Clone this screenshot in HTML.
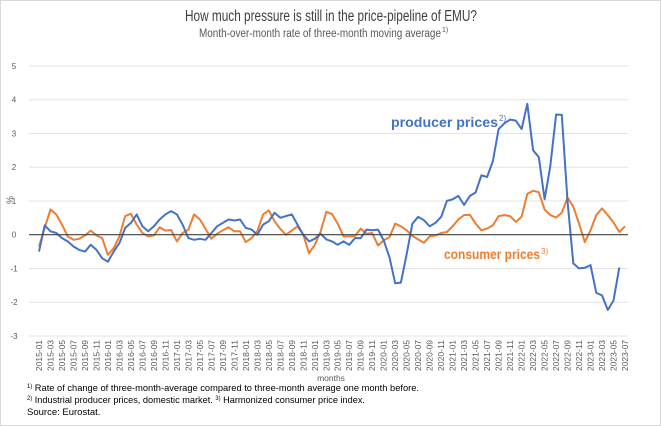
<!DOCTYPE html>
<html><head><meta charset="utf-8"><style>
html,body{margin:0;padding:0;background:#fff}
svg{display:block;font-family:"Liberation Sans",sans-serif}
</style></head><body>
<svg id="chart" width="661" height="426" viewBox="0 0 661 426" xmlns="http://www.w3.org/2000/svg">
<rect x="0.5" y="0.5" width="660" height="425" fill="#fff" stroke="#d9d9d9"/>
<text x="331" y="21" text-anchor="middle" font-size="15.5" fill="#404040" textLength="292" lengthAdjust="spacingAndGlyphs">How much pressure is still in the price-pipeline of EMU?</text>
<text x="320" y="37" text-anchor="middle" font-size="11.5" fill="#595959" textLength="242" lengthAdjust="spacingAndGlyphs">Month-over-month rate of three-month moving average</text>
<text x="442" y="32" font-size="7" fill="#595959">1)</text>
<g id="grid"></g>
<g id="yticks"></g>
<text x="13" y="200" font-size="9" fill="#595959" text-anchor="middle" transform="rotate(-90 13 200)">%</text>
<g id="xticks"></g>
<g id="series"></g>
<text x="391" y="127" font-size="14" font-weight="bold" fill="#4472c4" textLength="107" lengthAdjust="spacingAndGlyphs">producer prices</text>
<text x="499" y="121" font-size="8" fill="#4472c4">2)</text>
<text x="444" y="259" font-size="14" font-weight="bold" fill="#ed7d31" textLength="96" lengthAdjust="spacingAndGlyphs">consumer prices</text>
<text x="541" y="254" font-size="8" fill="#ed7d31">3)</text>
<text x="331" y="381" font-size="8.5" fill="#595959" text-anchor="middle">months</text>
<text x="27" y="391" font-size="9.5" fill="#000" textLength="392" lengthAdjust="spacingAndGlyphs"><tspan font-size="6" dy="-3">1)</tspan><tspan dy="3"> Rate of change of three-month-average compared to three-month average one month before.</tspan></text>
<text x="27" y="403" font-size="9.5" fill="#000" textLength="338" lengthAdjust="spacingAndGlyphs"><tspan font-size="6" dy="-3">2)</tspan><tspan dy="3"> Industrial producer prices, domestic market. </tspan><tspan font-size="6" dy="-3">3)</tspan><tspan dy="3"> Harmonized consumer price index.</tspan></text>
<text x="27" y="415" font-size="9.5" fill="#000">Source: Eurostat.</text>
</svg>
<script>
const yTicks = [5,4,3,2,1,0,-1,-2,-3];
const startYear = 2015, monthCount = 103;
const producer = [-0.5,0.28,0.1,0.05,-0.1,-0.2,-0.35,-0.45,-0.5,-0.3,-0.45,-0.7,-0.8,-0.5,-0.25,0.2,0.35,0.6,0.25,0.1,0.25,0.45,0.6,0.7,0.6,0.3,-0.1,-0.15,-0.12,-0.15,0.05,0.25,0.35,0.45,0.42,0.45,0.2,0.15,0,0.3,0.4,0.65,0.5,0.55,0.6,0.3,0,-0.2,-0.12,0.03,-0.14,-0.2,-0.3,-0.2,-0.3,-0.1,-0.1,0.15,0.13,0.15,-0.17,-0.67,-1.44,-1.42,-0.57,0.33,0.53,0.43,0.25,0.35,0.53,1.0,1.05,1.15,0.88,1.15,1.25,1.76,1.71,2.18,3.13,3.3,3.41,3.38,3.13,3.88,2.5,2.3,1.05,2.03,3.56,3.55,1.0,-0.85,-1.0,-0.98,-0.9,-1.72,-1.8,-2.23,-1.95,-0.97,null];
const consumer = [-0.35,0.2,0.75,0.6,0.3,-0.05,-0.15,-0.12,-0.02,0.12,-0.02,-0.1,-0.6,-0.4,-0.05,0.55,0.62,0.3,0.05,-0.05,-0.02,0.22,0.12,0.14,-0.2,0.05,0.15,0.6,0.45,0.17,-0.12,0.03,0.13,0.22,0.1,0.1,-0.22,-0.1,0.1,0.6,0.72,0.4,0.17,0,0.12,0.25,0,-0.55,-0.3,0.08,0.68,0.61,0.33,-0.05,-0.05,-0.04,0.18,0.03,0.05,-0.32,-0.17,-0.07,0.33,0.25,0.13,-0.04,-0.14,-0.24,-0.05,-0.02,0.05,0.08,0.25,0.45,0.58,0.59,0.33,0.13,0.18,0.28,0.55,0.58,0.55,0.38,0.53,1.21,1.3,1.26,0.75,0.58,0.51,0.65,1.1,0.83,0.33,-0.22,0.13,0.58,0.78,0.58,0.36,0.08,0.25];
const NS = "http://www.w3.org/2000/svg";
const x0 = 39, x1 = 625, plotL = 29, plotR = 628;
function xScale(i){ return x0 + (x1 - x0) * i / (monthCount - 1); }
function yScale(v){ return 234.7 - v * 33.75; }
function mk(tag, attrs, parent){ const e = document.createElementNS(NS, tag); for (const k in attrs) e.setAttribute(k, attrs[k]); parent.appendChild(e); return e; }
const grid = document.getElementById('grid'), yt = document.getElementById('yticks'), xt = document.getElementById('xticks'), ser = document.getElementById('series');
yTicks.forEach(v => {
  const y = yScale(v);
  if (v !== 0) {
    const l = mk('line', {x1: plotL, x2: plotR, y1: y, y2: y, stroke: '#e3e3e3', 'stroke-width': 1}, grid);
    
    
  }
  const t = mk('text', {x: 14, y: y + 3, 'font-size': 8, fill: '#595959', 'text-anchor': 'middle'}, yt);
  t.textContent = String(v);
  
  
});
for (let i = 0; i < monthCount; i += 2) {
  const yr = startYear + Math.floor(i / 12), mo = (i % 12) + 1;
  const lbl = yr + '-' + (mo < 10 ? '0' : '') + mo;
  const x = xScale(i) + 3;
  const t = mk('text', {x: x, y: 340, 'font-size': 8, fill: '#595959', 'text-anchor': 'end', textLength: 31, lengthAdjust: 'spacingAndGlyphs', transform: 'rotate(-90 ' + x + ' 340)'}, xt);
  t.textContent = lbl;
  
  
}
function pathFor(arr){ let d = '', pen = false; arr.forEach((v, i) => { if (v === null) { pen = false; return; } d += (pen ? 'L' : 'M') + xScale(i).toFixed(1) + ' ' + yScale(v).toFixed(1) + ' '; pen = true; }); return d; }
const cp = mk('path', {d: pathFor(consumer), fill: 'none', stroke: '#ed7d31', 'stroke-width': 2, 'stroke-linejoin': 'round'}, ser);


const pp = mk('path', {d: pathFor(producer), fill: 'none', stroke: '#4472c4', 'stroke-width': 2, 'stroke-linejoin': 'round'}, ser);


const zl = mk('line', {x1: plotL, x2: plotR, y1: yScale(0), y2: yScale(0), stroke: '#404040', 'stroke-width': 1.2}, ser);


</script>
</body></html>
